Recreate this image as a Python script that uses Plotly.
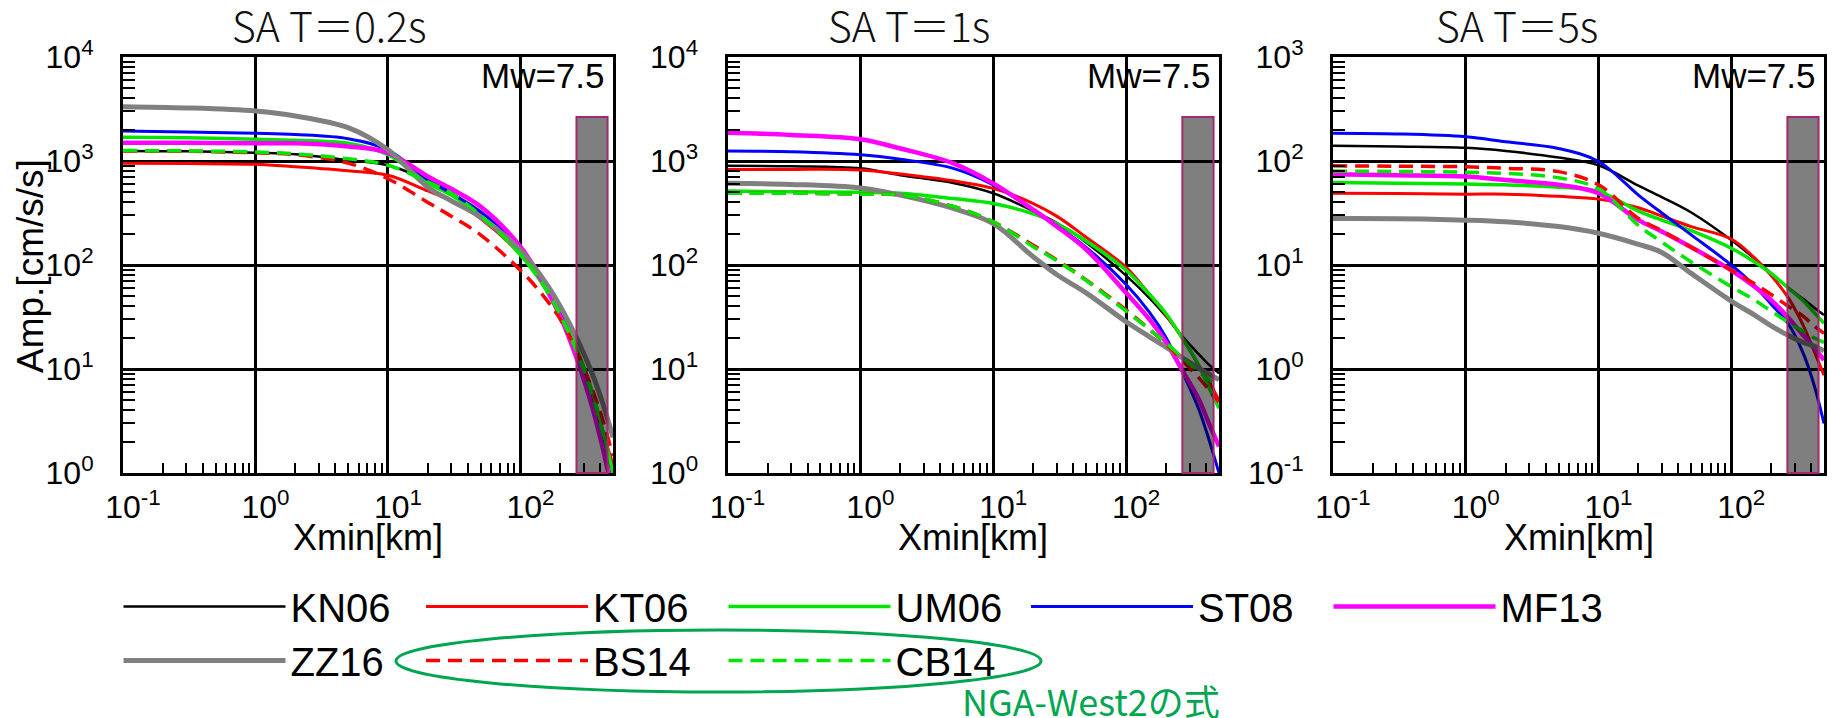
import math
import plotly.graph_objects as go

# ---------------- data ----------------
X_KM = [0.1, 0.3, 1, 2, 5, 10, 20, 30, 50, 100, 150, 200, 270, 350, 420, 500]

MODELS = ["KN06", "KT06", "UM06", "ST08", "MF13", "ZZ16", "BS14", "CB14"]
PANEL_TITLES = ["SA T＝0.2s", "SA T＝1s", "SA T＝5s"]
MAG_LABEL = "Mw=7.5"

# SA T=0.2s  [cm/s/s]
T02_KN06 = [1250, 1240, 1200, 1160, 1020, 910, 650, 500, 295, 129, 66, 35, 14, 5.2, 2.2, 0.89]
T02_KT06 = [950, 945, 930, 880, 805, 730, 515, 415, 280, 126, 65, 35, 15, 5.6, 2.5, 1.2]
T02_UM06 = [1690, 1670, 1620, 1580, 1480, 1150, 615, 470, 300, 125, 63, 34, 15, 6.0, 2.5, 1.0]
T02_ST08 = [1940, 1900, 1850, 1800, 1640, 1280, 660, 490, 325, 145, 68, 34, 13, 4.6, 1.8, 0.63]
T02_MF13 = [1500, 1500, 1480, 1480, 1380, 1200, 710, 540, 365, 150, 66, 32, 12, 4.2, 1.7, 0.63]
T02_ZZ16 = [3330, 3240, 3020, 2710, 2090, 1280, 560, 415, 290, 138, 72, 40, 19, 8.9, 4.6, 2.2]
T02_BS14 = [1250, 1240, 1200, 1150, 955, 675, 400, 295, 195, 89, 50, 30, 14, 6.3, 3.2, 1.45]
T02_CB14 = [1260, 1250, 1220, 1170, 1050, 910, 630, 490, 300, 126, 63, 33, 14, 5.5, 2.4, 1.0]

# SA T=1s
T1_KN06 = [900, 890, 850, 730, 615, 490, 330, 255, 165, 79, 48, 32, 20, 14, 11, 9.1]
T1_KT06 = [830, 830, 820, 750, 645, 545, 390, 295, 185, 95, 52, 33, 19, 11, 7.6, 5.0]
T1_UM06 = [515, 505, 500, 490, 435, 390, 310, 250, 170, 89, 52, 34, 19, 11, 6.6, 4.2]
T1_ST08 = [1250, 1230, 1150, 1040, 850, 590, 340, 240, 148, 65, 35, 20, 8.9, 4.2, 2.1, 1.0]
T1_MF13 = [1870, 1780, 1620, 1320, 950, 610, 340, 235, 141, 54, 30, 18, 9.3, 5.2, 3.0, 1.8]
T1_ZZ16 = [610, 595, 550, 470, 350, 250, 120, 81, 54, 28.5, 20.4, 16.2, 12.6, 10.2, 8.9, 7.9]
T1_BS14 = [490, 490, 480, 470, 365, 260, 155, 112, 72, 37, 24, 17.4, 11.7, 8.3, 6.3, 4.8]
T1_CB14 = [490, 490, 480, 470, 365, 260, 150, 110, 71, 36, 24, 17.8, 12.6, 9.5, 7.9, 6.8]

# SA T=5s
T5_KN06 = [140, 138, 134, 125, 108, 91, 58, 45, 32, 17.4, 11.5, 8.3, 6.0, 4.7, 3.9, 3.3]
T5_KT06 = [49, 48.8, 48, 48, 45.7, 43, 35.5, 29.5, 23.4, 17.8, 11.7, 7.9, 4.8, 2.6, 1.5, 0.87]
T5_UM06 = [62, 61, 60, 59, 56, 51, 33, 27, 21.4, 14.5, 10.7, 8.3, 6.0, 4.5, 3.5, 2.75]
T5_ST08 = [185, 182, 171, 153, 132, 99, 47, 31.6, 19.5, 10, 6.3, 4.2, 2.7, 1.4, 0.71, 0.30]
T5_MF13 = [74.5, 73, 71, 65.6, 59, 49, 27, 21, 14.8, 8.9, 6.2, 4.6, 3.1, 2.1, 1.6, 1.22]
T5_ZZ16 = [28, 27.9, 27, 26, 23.4, 20.2, 15.8, 13.2, 8.3, 4.5, 3.3, 2.6, 2.1, 1.8, 1.66, 1.5]
T5_BS14 = [90, 89, 88, 85, 79, 59, 28, 21.4, 14.8, 8.9, 6.6, 5.2, 4.0, 3.2, 2.6, 2.2]
T5_CB14 = [80, 79.4, 78, 76, 69, 54, 24, 16.6, 10.7, 6.2, 4.6, 3.6, 2.8, 2.3, 2.0, 1.8]

PANELS = [
    [T02_KN06, T02_KT06, T02_UM06, T02_ST08, T02_MF13, T02_ZZ16, T02_BS14, T02_CB14],
    [T1_KN06, T1_KT06, T1_UM06, T1_ST08, T1_MF13, T1_ZZ16, T1_BS14, T1_CB14],
    [T5_KN06, T5_KT06, T5_UM06, T5_ST08, T5_MF13, T5_ZZ16, T5_BS14, T5_CB14],
]

X_TICKVALS = [0.1, 1, 10, 100]
X_TICKTEXT = ["10<sup>-1</sup>", "10<sup>0</sup>", "10<sup>1</sup>", "10<sup>2</sup>"]
Y_TICKVALS = [[1, 10, 100, 1000, 10000], [1, 10, 100, 1000, 10000], [0.1, 1, 10, 100, 1000]]
Y_TICKTEXT = [
    ["10<sup>0</sup>", "10<sup>1</sup>", "10<sup>2</sup>", "10<sup>3</sup>", "10<sup>4</sup>"],
    ["10<sup>0</sup>", "10<sup>1</sup>", "10<sup>2</sup>", "10<sup>3</sup>", "10<sup>4</sup>"],
    ["10<sup>-1</sup>", "10<sup>0</sup>", "10<sup>1</sup>", "10<sup>2</sup>", "10<sup>3</sup>"],
]
X_MIN, X_MAX = 0.1, 500
Y_LIMITS = [(1, 10000), (1, 10000), (0.1, 1000)]
RANGE_BAND = (265, 455)   # shaded distance band [km]

# ---------------- style ----------------
W, H = 1835, 718
OFF = 8  # page body margin of the html page
ARIAL = "Liberation Sans, Arial, sans-serif"
CJK = "Noto Sans CJK JP, sans-serif"
STYLE = {
    "KN06": dict(color="#000000", width=2.5, dash="solid"),
    "KT06": dict(color="#ff0000", width=3, dash="solid"),
    "UM06": dict(color="#00e600", width=3.5, dash="solid"),
    "ST08": dict(color="#0000ff", width=3, dash="solid"),
    "MF13": dict(color="#ff00ff", width=4.5, dash="solid"),
    "ZZ16": dict(color="#808080", width=5, dash="solid"),
    "BS14": dict(color="#ff0000", width=3.5, dash="14px,8px"),
    "CB14": dict(color="#00e600", width=3.5, dash="14px,8px"),
}
LEGEND_ROW = {"KN06": "legend", "KT06": "legend", "UM06": "legend", "ST08": "legend",
              "MF13": "legend", "ZZ16": "legend2", "BS14": "legend2", "CB14": "legend2"}
# positions in screen pixels
X_DOM_PX = [(123, 613), (727.5, 1219), (1333, 1824)]
Y_DOM_PX = (57, 473)
TITLE_X_PX = [329, 909, 1517]


def px(sx):
    return (sx - OFF) / W


def py(sy):
    return 1 - (sy - OFF) / H


fig = go.Figure()
for i, series in enumerate(PANELS):
    ax = "" if i == 0 else str(i + 1)
    for name, ys in zip(MODELS, series):
        st = STYLE[name]
        fig.add_trace(go.Scatter(
            x=X_KM, y=ys, mode="lines", name=name,
            line=dict(color=st["color"], width=st["width"], dash=st["dash"],
                      shape="spline", smoothing=1.0),
            xaxis="x" + ax, yaxis="y" + ax,
            showlegend=(i == 0), legendgroup=name, legend=LEGEND_ROW[name],
        ))

legend_common = dict(
    orientation="h", xanchor="left", yanchor="top",
    font=dict(family=ARIAL, size=40, color="black"),
    entrywidth=125.5, entrywidthmode="pixels", itemwidth=162,
    bgcolor="rgba(0,0,0,0)", borderwidth=0, tracegroupgap=0,
)
layout = dict(
    width=W, height=H,
    margin=dict(l=0, r=0, t=0, b=0),
    paper_bgcolor="white", plot_bgcolor="white",
    font=dict(family=ARIAL, color="black"),
    showlegend=True,
    legend=dict(x=110.5 / W, y=1 - 566 / H, **legend_common),
    legend2=dict(x=110.5 / W, y=1 - 620 / H, **legend_common),
)
y0 = py(Y_DOM_PX[1])
y1 = py(Y_DOM_PX[0])
for i in range(3):
    ax = "" if i == 0 else str(i + 1)
    layout["xaxis" + ax] = dict(
        type="log", domain=[px(X_DOM_PX[i][0]), px(X_DOM_PX[i][1])],
        range=[math.log10(X_MIN), math.log10(X_MAX)],
        anchor="y" + ax, tickmode="array", tickvals=X_TICKVALS, ticktext=X_TICKTEXT,
        showgrid=True, gridcolor="black", gridwidth=2.5,
        showline=True, linecolor="black", linewidth=3, mirror=True,
        ticks="inside", ticklen=10, tickwidth=1.5, tickcolor="black",
        minor=dict(ticks="inside", ticklen=10, tickwidth=1.5, tickcolor="black",
                   dtick="D1", showgrid=False),
        tickfont=dict(family=ARIAL, size=32, color="black"),
        ticklabelshift=10, ticklabelstandoff=4,
        zeroline=False, automargin=False, fixedrange=True,
    )
    layout["yaxis" + ax] = dict(
        type="log", domain=[y0, y1],
        range=[math.log10(Y_LIMITS[i][0]), math.log10(Y_LIMITS[i][1])],
        anchor="x" + ax, tickmode="array", tickvals=Y_TICKVALS[i], ticktext=Y_TICKTEXT[i],
        showgrid=True, gridcolor="black", gridwidth=2.5,
        showline=True, linecolor="black", linewidth=3, mirror=True,
        ticks="inside", ticklen=12, tickwidth=1.5, tickcolor="black",
        minor=dict(ticks="inside", ticklen=12, tickwidth=1.5, tickcolor="black",
                   dtick="D1", showgrid=False),
        tickfont=dict(family=ARIAL, size=32, color="black"),
        ticklabelstandoff=20,
        zeroline=False, automargin=False, fixedrange=True,
    )
fig.update_layout(**layout)

annotations = []
shapes = []
for i in range(3):
    ax = "" if i == 0 else str(i + 1)
    annotations.append(dict(
        text=PANEL_TITLES[i], xref="paper", yref="paper", x=px(TITLE_X_PX[i]), y=py(24),
        xanchor="center", yanchor="middle", showarrow=False,
        font=dict(family=CJK, size=41, color="#111111", weight=300)))
    annotations.append(dict(
        text=MAG_LABEL, xref="x" + ax + " domain", yref="y" + ax + " domain", x=1, y=1,
        xshift=-6, yshift=3, xanchor="right", yanchor="top", showarrow=False,
        font=dict(family=ARIAL, size=35, color="black")))
    annotations.append(dict(
        text="Xmin[km]", xref="x" + ax + " domain", yref="paper", x=0.5, y=py(537),
        xanchor="center", yanchor="middle", showarrow=False,
        font=dict(family=ARIAL, size=36, color="black")))
    shapes.append(dict(
        type="rect", xref="x" + ax, yref="y" + ax + " domain",
        x0=RANGE_BAND[0], x1=RANGE_BAND[1], y0=0, y1=0.856,
        fillcolor="rgba(0,0,0,0.5)", line=dict(color="#a3286e", width=2), layer="above"))

annotations.append(dict(
    text="Amp.[cm/s/s]", xref="paper", yref="paper", x=px(30), y=py(266),
    xanchor="center", yanchor="middle", textangle=-90, showarrow=False,
    font=dict(family=ARIAL, size=37, color="black")))
annotations.append(dict(
    text="NGA-West2の式", xref="paper", yref="paper", x=px(960), y=py(700),
    xanchor="left", yanchor="middle", showarrow=False,
    font=dict(family=CJK, size=36, color="#00a64f")))
shapes.append(dict(
    type="circle", xref="paper", yref="paper",
    x0=px(396), x1=px(1041), y0=py(692), y1=py(630),
    line=dict(color="#00a64f", width=3), fillcolor="rgba(0,0,0,0)"))

fig.update_layout(annotations=annotations, shapes=shapes)
fig.write_html("out.html")
